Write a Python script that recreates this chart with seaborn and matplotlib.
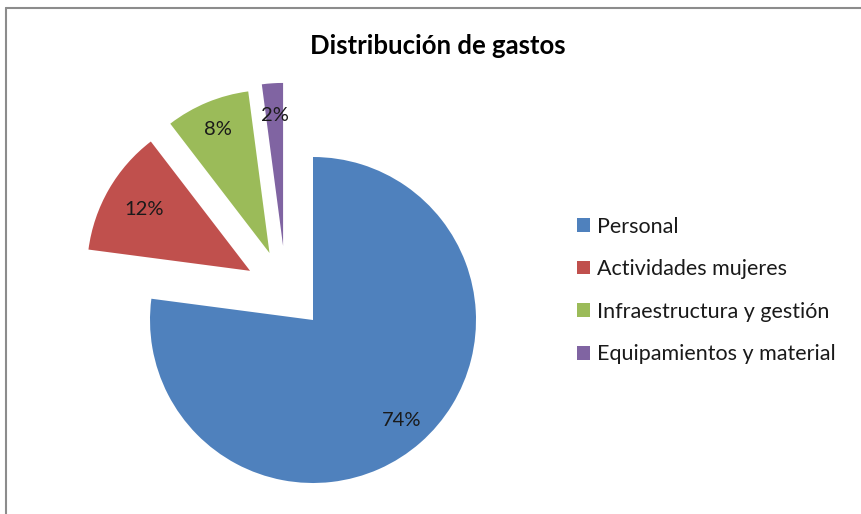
import matplotlib
matplotlib.use('Agg')
import matplotlib.pyplot as plt
import matplotlib.lines as mlines
import numpy as np
import seaborn as sns

sns.set_theme(style='white')
plt.rcParams['font.family'] = ['Lato', 'DejaVu Sans']

# data (values as shown on the chart labels)
categorias = ['Personal', 'Actividades mujeres', 'Infraestructura y gestión', 'Equipamientos y material']
valores = [74, 12, 8, 2]
colores = sns.color_palette(['#4F81BD', '#C0504D', '#9BBB59', '#8064A2'])

# explosion of each slice: distance (in radii) and direction (degrees)
sep_dist = [0, 0.49, 0.49, 0.49]
sep_ang = [0, 142, 123, 112]

W, H = 861, 514
fig = plt.figure(figsize=(W / 100, H / 100), dpi=100)

# pie axis: centre at (313, 320) px from top, radius 163 px
R = 163
lim = 1.6
cx, cy = 313, H - 320
ax = fig.add_axes([(cx - R * lim) / W, (cy - R * lim) / H, 2 * R * lim / W, 2 * R * lim / H])
total = sum(valores)
wedges, _, autotexts = ax.pie(valores, colors=colores, startangle=90,
                              counterclock=False,
                              autopct=lambda p: '{:.0f}%'.format(p * total / 100),
                              pctdistance=0.8,
                              wedgeprops={'linewidth': 0},
                              textprops={'fontsize': 14.5, 'color': '#1a1a1a'})

pct_dist = [0.82, 0.75, 0.82, 0.8]
for w, t, d, a, pd in zip(wedges, autotexts, sep_dist, sep_ang, pct_dist):
    ox, oy = d * np.cos(np.radians(a)), d * np.sin(np.radians(a))
    w.set_center((ox, oy))
    mid = np.radians((w.theta1 + w.theta2) / 2)
    t.set_position((ox + pd * np.cos(mid), oy + pd * np.sin(mid)))

ax.set_xlim(-lim, lim)
ax.set_ylim(-lim, lim)
ax.set_aspect('equal')
ax.axis('off')

fig.text(438 / W, 1 - 46 / H, 'Distribución de gastos', ha='center', va='center',
         fontsize=18.5, fontweight='bold', color='black')

fig.legend(wedges, categorias, loc='center left', bbox_to_anchor=(577 / W, 1 - 290.5 / H),
           frameon=False, fontsize=15.5, handlelength=0.6, handleheight=0.6,
           handletextpad=0.35, labelspacing=1.05, borderpad=0, borderaxespad=0,
           labelcolor='#1a1a1a')

# chart border (only top and left edges are visible in the crop)
fig.add_artist(mlines.Line2D([6 / W, 6 / W], [0, 1 - 8 / H], color='#8c8c8c', lw=1.5))
fig.add_artist(mlines.Line2D([6 / W, 1], [1 - 8 / H, 1 - 8 / H], color='#8c8c8c', lw=1.5))

fig.savefig('out.png', dpi=100)
